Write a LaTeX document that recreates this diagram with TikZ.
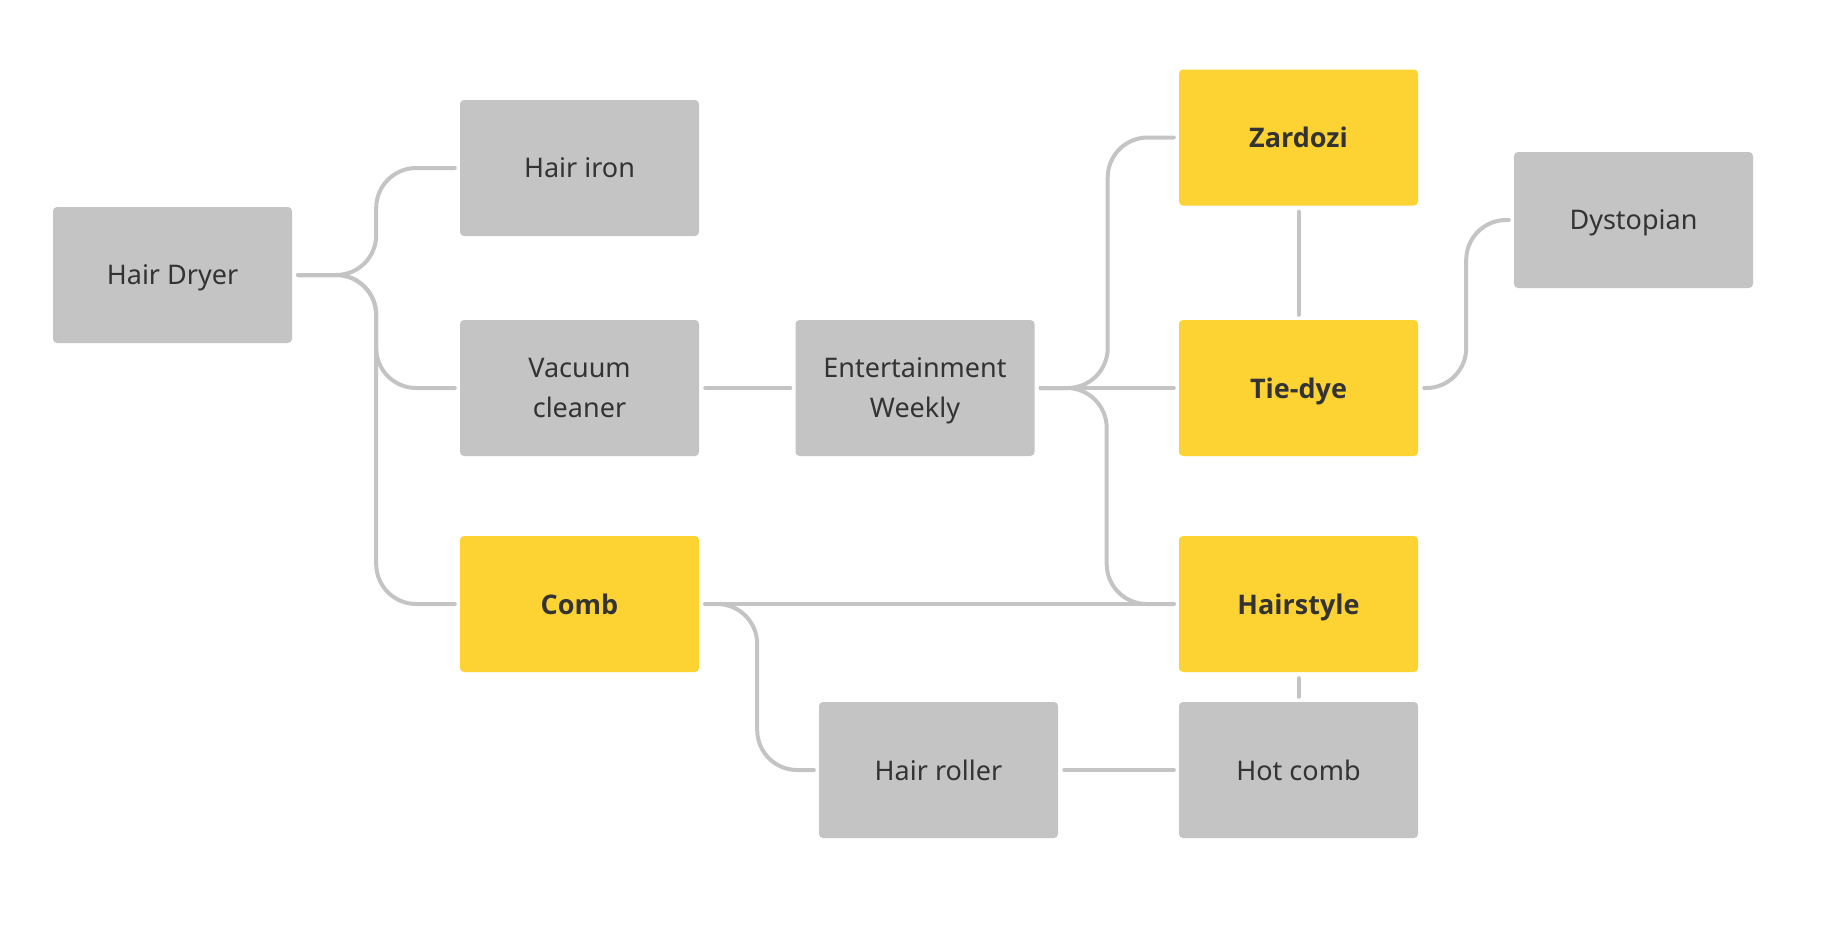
\documentclass[tikz,border=0pt]{standalone}
\usepackage{fontspec}
\setmainfont{Noto Sans}
\newfontfamily\boldsans{Open Sans}
\definecolor{boxgray}{HTML}{C4C4C4}
\definecolor{boxyellow}{HTML}{FDD333}
\definecolor{linegray}{HTML}{C4C4C4}
\definecolor{txt}{HTML}{333333}
\begin{document}
\begin{tikzpicture}[x=1pt,y=-1pt,
  card/.style={rectangle, rounded corners=4pt, minimum width=239pt, minimum height=136pt,
    inner sep=0pt, align=center, text=txt, text depth=0pt, font=\fontsize{27}{40}\selectfont},
  graycard/.style={card, fill=boxgray},
  yellowcard/.style={card, fill=boxyellow, font=\boldsans\fontsize{27}{40}\selectfont\bfseries},
  link/.style={draw=linegray, line width=4pt, line cap=round, rounded corners=40pt,
    shorten <=6pt, shorten >=5pt}]
\useasboundingbox (0,0) rectangle (1824,940);
\fill[white] (0,0) rectangle (1824,940);
% nodes
\node[graycard] (hd) at (172.5,275) {Hair Dryer};
\node[graycard] (hi) at (579.5,168) {Hair iron};
\node[graycard] (vc) at (579.5,388) {Vacuum\\cleaner};
\node[yellowcard] (comb) at (579.5,604) {Comb};
\node[graycard] (ew) at (915,388) {Entertainment\\Weekly};
\node[graycard] (hr) at (938.5,770) {Hair roller};
\node[yellowcard] (zar) at (1298.5,137.5) {Zardozi};
\node[yellowcard] (tie) at (1298.5,388) {Tie-dye};
\node[yellowcard] (hs) at (1298.5,604) {Hairstyle};
\node[graycard] (hc) at (1298.5,770) {Hot comb};
\node[graycard] (dys) at (1633.5,220) {Dystopian};
% connectors
\draw[link] (hd.east) -- ++(84,0) |- (hi.west);
\draw[link] (hd.east) -- ++(84,0) |- (vc.west);
\draw[link] (hd.east) -- ++(84,0) |- (comb.west);
\draw[link] (vc.east) -- (ew.west);
\draw[link] (ew.east) -- ++(73,0) |- (zar.west);
\draw[link] (ew.east) -- (tie.west);
\draw[link] (ew.east) -- ++(72,0) |- (hs.west);
\draw[link] (comb.east) -- (hs.west);
\draw[link] (comb.east) -- ++(58,0) |- (hr.west);
\draw[link] (hr.east) -- (hc.west);
\draw[link] (tie.east) -- ++(48,0) |- (dys.west);
\draw[link] (zar.south) -- (tie.north);
\draw[link] (hs.south) -- (hc.north);
\end{tikzpicture}
\end{document}
